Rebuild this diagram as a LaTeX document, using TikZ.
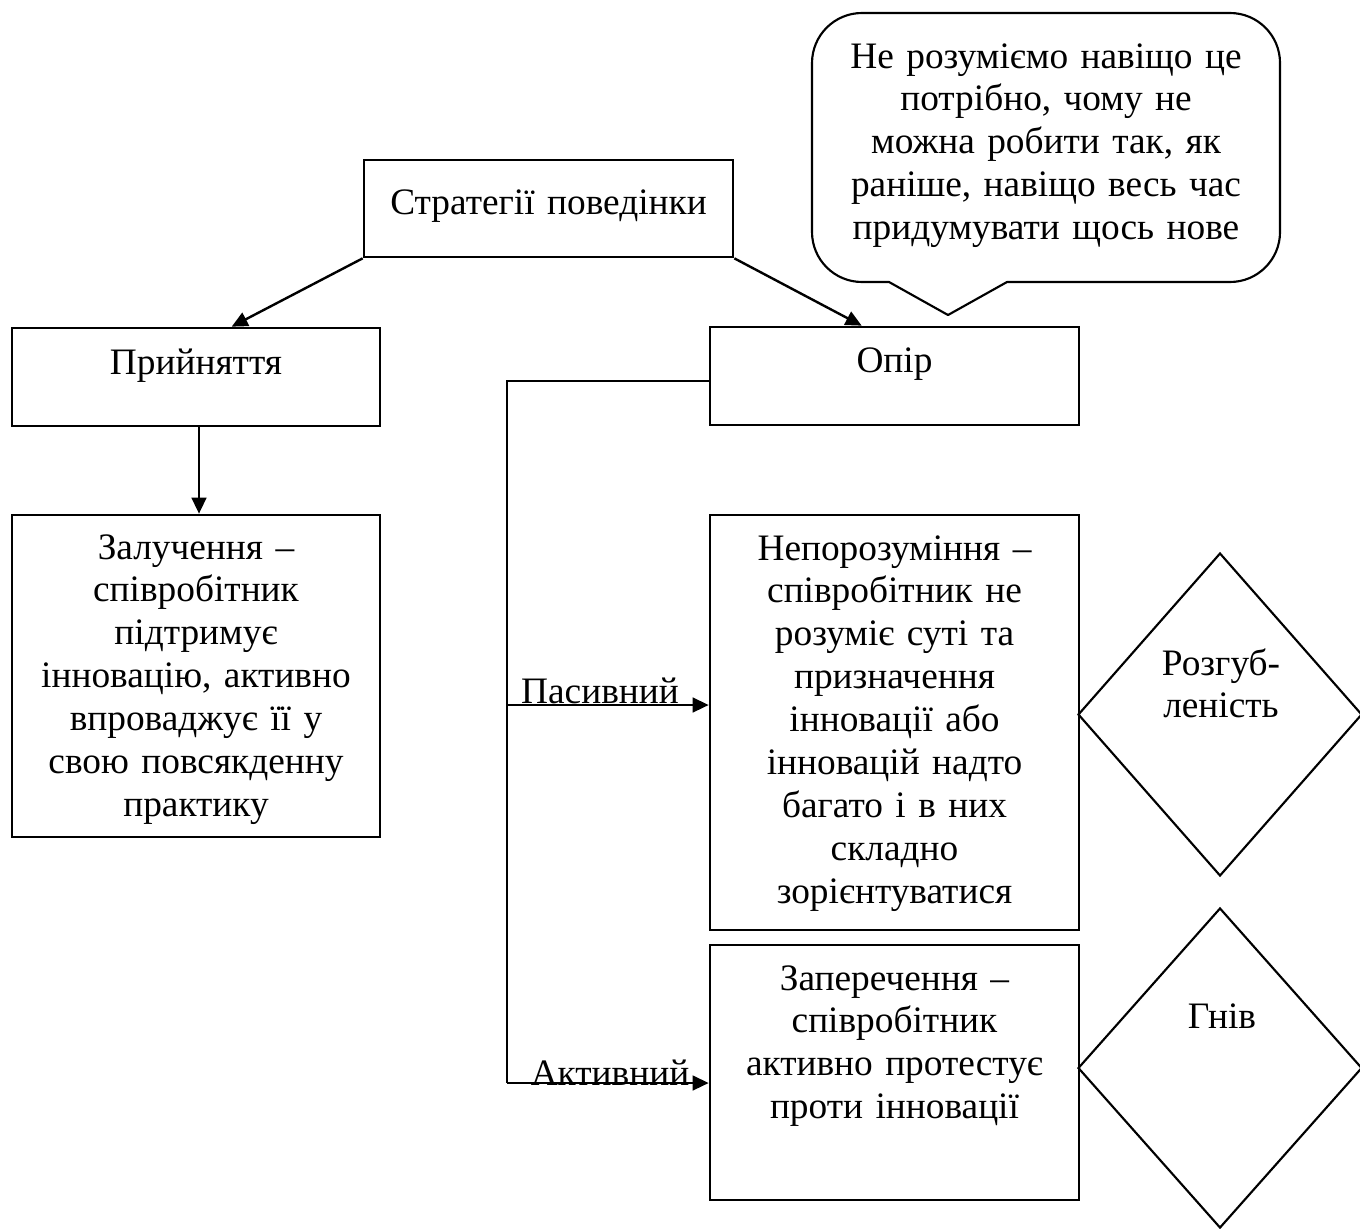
\documentclass[tikz,border=0pt]{standalone}
\usepackage{fontspec}
\setmainfont{Liberation Serif}
\usetikzlibrary{shapes.geometric,arrows.meta,calc,fit}

\tikzset{
  box/.style={draw, line width=1pt, inner sep=0pt, fit={#1}},
  rhomb/.style={draw, diamond, line width=0.8pt, inner sep=0pt},
  txt/.style={anchor=base, inner sep=0pt, align=center, text width=#1,
    font=\fontsize{14pt}{16.1pt}\selectfont},
  txt/.default=136pt,
  lbl/.style={anchor=base, inner sep=0pt, font=\fontsize{14pt}{16.1pt}\selectfont},
  arr/.style={line width=0.9pt, -{Triangle[length=6pt,width=5.5pt]}},
  trunk/.style={line width=0.5pt},
  bubble/.style={draw, line width=0.8pt, line join=round}
}

\begin{document}
\begin{tikzpicture}[x=0.375pt, y=-0.375pt]
  % page area
  \path[fill=white, use as bounding box] (0,0) rectangle (1360,1228);

  % boxes
  \node[box={(364,160) (733,257)}] (strat) {};
  \node[box={(12,328) (380,426)}] (accept) {};
  \node[box={(710,327) (1079,425)}] (resist) {};
  \node[box={(12,515) (380,837)}] (engage) {};
  \node[box={(710,515) (1079,930)}] (misund) {};
  \node[box={(710,945) (1079,1200)}] (deny) {};

  % emotion diamonds
  \node[rhomb, minimum width=106.5pt, minimum height=121.1pt] (confused) at (1220,714.5) {};
  \node[rhomb, minimum width=106.5pt, minimum height=120pt] (anger) at (1220,1068) {};

  % texts
  \node[txt=140pt] (t-strat) at (548.5,214) {Стратегії поведінки};
  \node[txt] (t-accept) at (196,374) {Прийняття};
  \node[txt] (t-resist) at (894.5,372) {Опір};
  \node[txt] (t-engage) at (196,559) {Залучення –\\ співробітник\\ підтримує\\ інновацію, активно\\ впроваджує її у\\ свою повсякденну\\ практику};
  \node[txt] (t-misund) at (894.5,560) {Непорозуміння –\\ співробітник не\\ розуміє суті та\\ призначення\\ інновації або\\ інновацій надто\\ багато і в них\\ складно\\ зорієнтуватися};
  \node[txt] (t-deny) at (894.5,990) {Заперечення –\\ співробітник\\ активно протестує\\ проти інновації};
  \node[txt=90pt] (t-confused) at (1221,675) {Розгуб-\\ леність};
  \node[txt=90pt] (t-anger) at (1222,1028) {Гнів};

  % speech bubble with its tail
  \draw[bubble] (948,315) -- (1007,282) -- (1230,282)
    .. controls (1257.6,282) and (1280,259.6) .. (1280,232) -- (1280,63)
    .. controls (1280,35.4) and (1257.6,13) .. (1230,13) -- (862,13)
    .. controls (834.4,13) and (812,35.4) .. (812,63) -- (812,232)
    .. controls (812,259.6) and (834.4,282) .. (862,282) -- (889,282) -- cycle;
  \node[txt=172pt] (t-bubble) at (1046,68) {Не розуміємо навіщо це\\ потрібно, чому не\\ можна робити так, як\\ раніше, навіщо весь час\\ придумувати щось нове};

  % connectors
  \draw[arr] (strat.south west) -- ($(accept.north west)+(221,0)$);
  \draw[arr] (strat.south east) -- ($(resist.north west)+(153,0)$);
  \draw[arr] ($(accept.south)+(3,0)$) -- ($(engage.north)+(3,0)$);

  \coordinate (tr-top) at (507,381);
  \coordinate (jp) at (507,705);
  \coordinate (ja) at (507,1083);
  \draw[trunk] (tr-top -| resist.west) -- (tr-top) -- (ja);
  \draw[arr] (jp) -- (jp -| misund.west);
  \draw[arr] (ja) -- (ja -| deny.west);
  \node[lbl] (l-passive) at (600,703) {Пасивний};
  \node[lbl] (l-active) at (610,1085) {Активний};
\end{tikzpicture}
\end{document}
